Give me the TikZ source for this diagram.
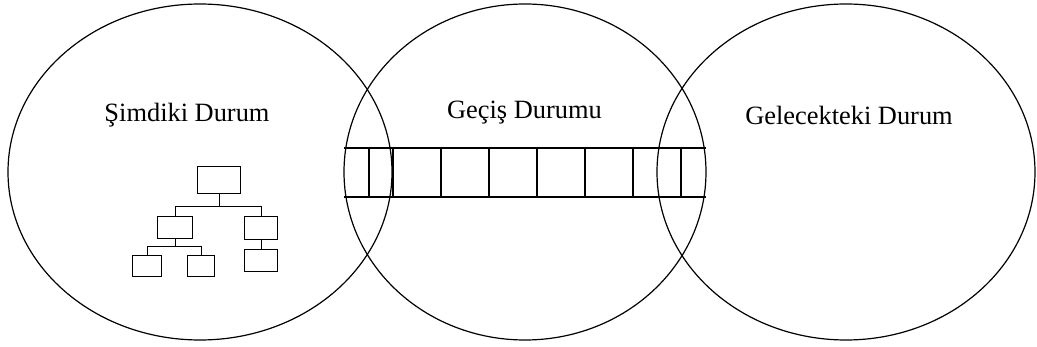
\documentclass[tikz,border=0pt]{standalone}
\usepackage{fontspec}
\setmainfont{Liberation Serif}
\usetikzlibrary{shapes.geometric}
\begin{document}
\begin{tikzpicture}[x=1pt, y=-1pt, line width=1.2pt,
  state/.style={draw, ellipse, inner sep=0pt, minimum height=336},
  lbl/.style={font=\fontsize{26.4}{30}\selectfont, anchor=base, inner sep=0pt},
  orgbox/.style={draw, line width=0.9pt, inner sep=0pt, anchor=north west}]
\useasboundingbox (0,0) rectangle (1037,347);
% three states
\node[state, minimum width=384] (now) at (200,172) {};
\node[state, minimum width=362] (trans) at (525,172) {};
\node[state, minimum width=378] (future) at (846,172) {};
\node[lbl] (nowlbl) at (187,121.5) {Şimdiki Durum};
\node[lbl] (translbl) at (524.5,118.3) {Geçiş Durumu};
\node[lbl] (futlbl) at (849,124.7) {Gelecekteki Durum};
% ladder across the transition
\coordinate (railA) at (344,148); \coordinate (railB) at (706,148);
\coordinate (railC) at (344,197); \coordinate (railD) at (706,197);
\draw[line width=1.5pt] (railA) -- (railB);
\draw[line width=1.5pt] (railC) -- (railD);
\foreach \x in {369,393,441,...,681} \draw[line width=1.4pt] (\x,148) -- (\x,197);
% org chart
\node[orgbox, minimum width=43, minimum height=27] (top) at (197,166) {};
\node[orgbox, minimum width=35, minimum height=22] (midL) at (157,216) {};
\node[orgbox, minimum width=33, minimum height=23] (midR) at (244,216) {};
\node[orgbox, minimum width=29, minimum height=21] (botA) at (132,255) {};
\node[orgbox, minimum width=27, minimum height=21] (botB) at (187,255) {};
\node[orgbox, minimum width=33, minimum height=22] (botR) at (244,249) {};
\begin{scope}[line width=0.9pt]
\draw (top.south) -- ++(0,13) coordinate (j1);
\draw (midL.north) |- (j1) -| (midR.north);
\draw (midL.south) -- ++(0,8) coordinate (j2);
\draw (botA.north) |- (j2) -| (botB.north);
\draw (midR.south) -- (botR.north);
\end{scope}
\end{tikzpicture}
\end{document}
